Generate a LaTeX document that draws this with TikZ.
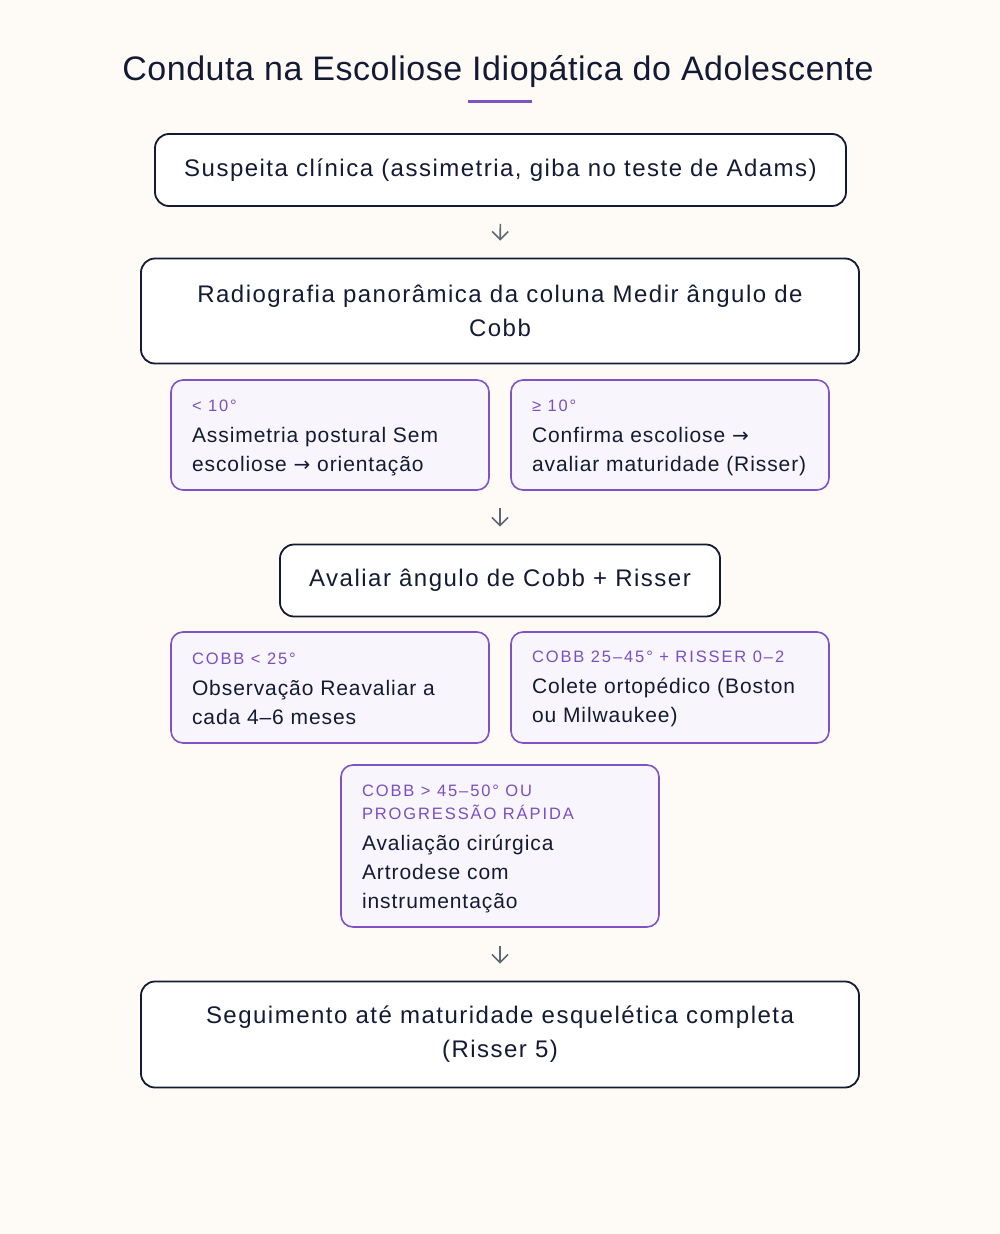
\documentclass[tikz,border=0pt]{standalone}
\usepackage{fontspec}
\setmainfont{Liberation Sans}[LetterSpace=6.2]
\newfontfamily\titlefont{Liberation Sans}[LetterSpace=1.6]
\newfontfamily\bodyfont{Liberation Sans}[LetterSpace=4.4]
\newfontfamily\lblfont{Liberation Sans}[LetterSpace=11.5]
\newfontfamily\arrfont{DejaVu Sans}
\usetikzlibrary{arrows.meta}
\definecolor{bg}{HTML}{FEFBF7}
\definecolor{navy}{HTML}{141A33}
\definecolor{pborder}{HTML}{8052C4}
\definecolor{ptext}{HTML}{7A4FC0}
\definecolor{pfill}{HTML}{F8F5FD}
\definecolor{arrgray}{HTML}{5E6877}
\newcommand{\lbltxt}{\color{ptext}\lblfont\fontsize{16.5}{23}\selectfont\spaceskip=0pt\xspaceskip=0pt\relax}
\newcommand{\bdytxt}{\color{navy}\bodyfont\fontsize{21}{29}\selectfont\spaceskip=0pt\xspaceskip=0pt\relax}
\newcommand{\ra}{{\arrfont\fontsize{20}{29}\selectfont →}}
\newcommand{\topstrut}[1]{\rule{0pt}{#1pt}}
\begin{document}
\begin{tikzpicture}[x=1pt,y=-1pt,
  mainbox/.style={draw=navy, line width=1.8pt, rounded corners=14pt, fill=white,
    align=center, font=\fontsize{24}{34}\selectfont, text=navy, inner sep=0pt},
  pbox/.style={draw=pborder, line width=1.6pt, rounded corners=12pt, fill=pfill,
    text width=276pt, align=left, inner xsep=21pt, inner ysep=0pt},
  arr/.style={draw=arrgray, line width=1.6pt, -{Straight Barb[length=8pt,width=16pt]},
    shorten <=17pt, shorten >=17pt}]
\path[fill=bg] (0,0) rectangle (1000,1234);
\useasboundingbox (0,0) rectangle (1000,1234);

\node[font=\titlefont\fontsize{34}{40}\selectfont, text=navy] (title) at (498,72)
  {Conduta na Escoliose Idiopática do Adolescente};
\draw[pborder, line width=3pt] (468,101.5) -- (532,101.5);

\node[mainbox, minimum width=691pt, minimum height=72pt] (b1) at (500.5,170)
  {Suspeita clínica (assimetria, giba no teste de Adams)};
\node[mainbox, minimum width=718pt, minimum height=105pt] (b2) at (500,311)
  {Radiografia panorâmica da coluna Medir ângulo de\\Cobb};

\node[pbox, minimum height=110pt] (p1) at (330,435)
  {{\lbltxt\topstrut{18}< 10°\par}\vspace{2pt}{\bdytxt Assimetria postural Sem\\escoliose \ra{} orientação\par}};
\node[pbox, minimum height=110pt] (p2) at (670,435)
  {{\lbltxt\topstrut{18}≥ 10°\par}\vspace{2pt}{\bdytxt Confirma escoliose \ra\\avaliar maturidade (Risser)\par}};
\coordinate (r1) at (500,490);

\node[mainbox, minimum width=440pt, minimum height=72pt] (b3) at (500,580.5)
  {Avaliar ângulo de Cobb + Risser};

\node[pbox, minimum height=111pt] (p3) at (330,687.5)
  {{\lbltxt\topstrut{14}COBB < 25°\par}\vspace{2pt}{\bdytxt Observação Reavaliar a\\cada 4–6 meses\par}};
\node[pbox, minimum height=111pt] (p4) at (670,687.5)
  {{\lbltxt\topstrut{14}COBB 25–45° + RISSER 0–2\par}\vspace{2pt}{\bdytxt Colete ortopédico (Boston\\ou Milwaukee)\par}};

\node[pbox, minimum height=162pt] (p5) at (500,846)
  {{\lbltxt\topstrut{18}COBB > 45–50° OU\\PROGRESSÃO RÁPIDA\par}\vspace{2pt}{\bdytxt Avaliação cirúrgica\\Artrodese com\\instrumentação\par}};

\node[mainbox, minimum width=718pt, minimum height=106pt] (b4) at (500,1034.5)
  {Seguimento até maturidade esquelética completa\\(Risser 5)};

\draw[arr] (b1.south) -- (b2.north);
\draw[arr, shorten <=18pt] (r1) -- (b3.north);
\draw[arr, shorten <=18pt] (p5.south) -- (b4.north);
\end{tikzpicture}
\end{document}
